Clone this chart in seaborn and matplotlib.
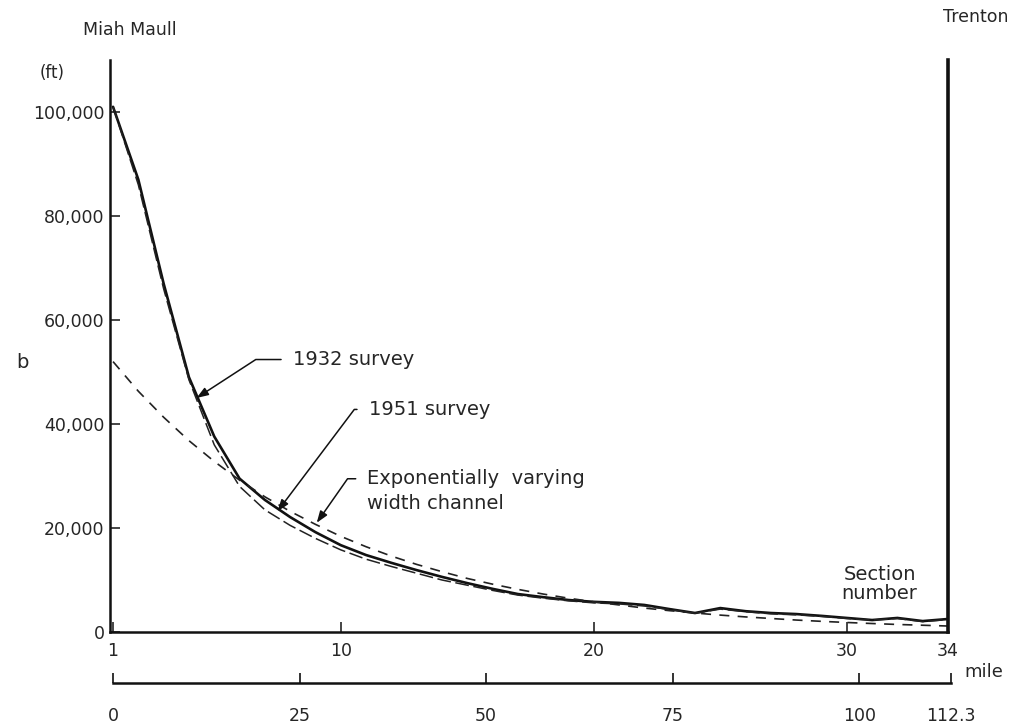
import matplotlib
matplotlib.use("Agg")
import matplotlib.pyplot as plt
import seaborn as sns
import pandas as pd

# section numbers along the estuary (Miah Maull -> Trenton)
sections = list(range(1, 35))

# channel width b (ft)
survey_1932 = [101000, 87000, 67000, 49000, 37600, 29500, 25400, 22100, 19200, 16700,
               14800, 13300, 11900, 10600, 9400, 8300, 7300, 6700, 6150, 5800,
               5600, 5200, 4400, 3650, 4600, 4000, 3650, 3450, 3100, 2700,
               2300, 2700, 2100, 2500]
survey_1951 = [101000, 86000, 66000, 48500, 36000, 28000, 23500, 20500, 18000, 15800,
               14000, 12600, 11300, 10000, 9000, 8000, 7100, 6500, 6000, 5600,
               5400, 5000, 4300, 3600, 4400, 3900, 3500, 3300, 3000, 2600,
               2300, 2600, 2000, 2400]
exp_channel = [52000, 46300, 41300, 36800, 32800, 29200, 26000, 23200, 20700, 18400,
               16400, 14600, 13000, 11600, 10300, 9200, 8200, 7300, 6500, 5800,
               5200, 4600, 4100, 3650, 3250, 2900, 2600, 2300, 2050, 1830,
               1630, 1450, 1300, 1150]

y_ticks = [0, 20000, 40000, 60000, 80000, 100000]
y_tick_labels = ["0", "20,000", "40,000", "60,000", "80,000", "100,000"]
section_ticks = [1, 10, 20, 30, 34]
mile_ticks = [0, 25, 50, 75, 100, 112.3]
mile_tick_labels = ["0", "25", "50", "75", "100", "112.3"]

sns.set_style("white")
plt.rcParams["font.family"] = ["DejaVu Sans"]

df = pd.DataFrame({"section": sections, "s1932": survey_1932,
                   "s1951": survey_1951, "exp": exp_channel})

W, H = 1028, 725
fig = plt.figure(figsize=(W / 100, H / 100), dpi=100)
ax = fig.add_axes([110 / W, 1 - 632 / H, (948 - 110) / W, (632 - 60) / H])

sns.lineplot(data=df, x="section", y="s1932", ax=ax, color="#111111", lw=1.9)
sns.lineplot(data=df, x="section", y="s1951", ax=ax, color="#222222", lw=1.1,
             linestyle=(0, (9, 3)))
sns.lineplot(data=df, x="section", y="exp", ax=ax, color="#222222", lw=1.2,
             linestyle=(0, (6, 5)))

ax.set_xlim(0.88, 34)
ax.set_ylim(0, 110000)
ax.set_xlabel("")
ax.set_ylabel("")
ax.set_yticks(y_ticks)
ax.set_yticklabels(y_tick_labels)
ax.set_xticks(section_ticks)
ax.set_xticklabels([str(s) for s in section_ticks])
ax.spines["top"].set_visible(False)
ax.spines["left"].set_linewidth(1.8)
ax.spines["bottom"].set_linewidth(1.8)
ax.spines["right"].set_linewidth(2.6)
for s in ax.spines.values():
    s.set_color("#111111")
ax.tick_params(axis="y", direction="in", length=7, width=1.2, pad=4,
               labelsize=12.5, left=True, right=False)
ax.tick_params(axis="x", direction="in", length=7, width=1.2, pad=7,
               labelsize=12.5, bottom=True)

# mile scale underneath
ax2 = fig.add_axes([113 / W, 1 - 683 / H, (951 - 113) / W, 20 / H])
ax2.set_xlim(0, 112.3)
ax2.set_ylim(0, 1)
ax2.set_yticks([])
ax2.patch.set_visible(False)
for side in ["top", "left", "right"]:
    ax2.spines[side].set_visible(False)
ax2.spines["bottom"].set_linewidth(1.8)
ax2.spines["bottom"].set_color("#111111")
ax2.set_xticks(mile_ticks)
ax2.set_xticklabels(mile_tick_labels)
ax2.tick_params(axis="x", direction="in", length=7, width=1.2, pad=17,
                labelsize=12.5, bottom=True, color="#111111")

# annotations
arrow = dict(arrowstyle="-|>,head_length=0.5,head_width=0.18", color="#111111",
             lw=1.1, shrinkA=6, shrinkB=0, relpos=(0, 0.5))
ax.annotate("1932 survey", xy=(4.3, 45000), xytext=(8.1, 52400),
            ha="left", va="center", fontsize=14,
            arrowprops=dict(arrow, connectionstyle="angle,angleA=0,angleB=33,rad=0"))
ax.annotate("1951 survey", xy=(7.5, 23200), xytext=(11.1, 42800),
            ha="left", va="center", fontsize=14,
            arrowprops=dict(arrow, connectionstyle="angle,angleA=0,angleB=53,rad=0"))
ax.annotate("Exponentially  varying\nwidth channel", xy=(9.05, 21000),
            xytext=(11.05, 27100), ha="left", va="center", fontsize=14,
            linespacing=1.4,
            arrowprops=dict(arrow, relpos=(0, 0.78),
                            connectionstyle="angle,angleA=0,angleB=55,rad=0"))
ax.text(31.3, 9250, "Section\nnumber", ha="center", va="center",
        fontsize=14, linespacing=0.95)

fig.text(130 / W, 1 - 30 / H, "Miah Maull", ha="center", va="center", fontsize=12.5)
fig.text(976 / W, 1 - 17 / H, "Trenton", ha="center", va="center", fontsize=12.5)
fig.text(52 / W, 1 - 73 / H, "(ft)", ha="center", va="center", fontsize=12)
fig.text(22 / W, 1 - 363 / H, "b", ha="center", va="center", fontsize=14)
fig.text(984 / W, 1 - 672 / H, "mile", ha="center", va="center", fontsize=13)

fig.savefig("out.png", dpi=100)
